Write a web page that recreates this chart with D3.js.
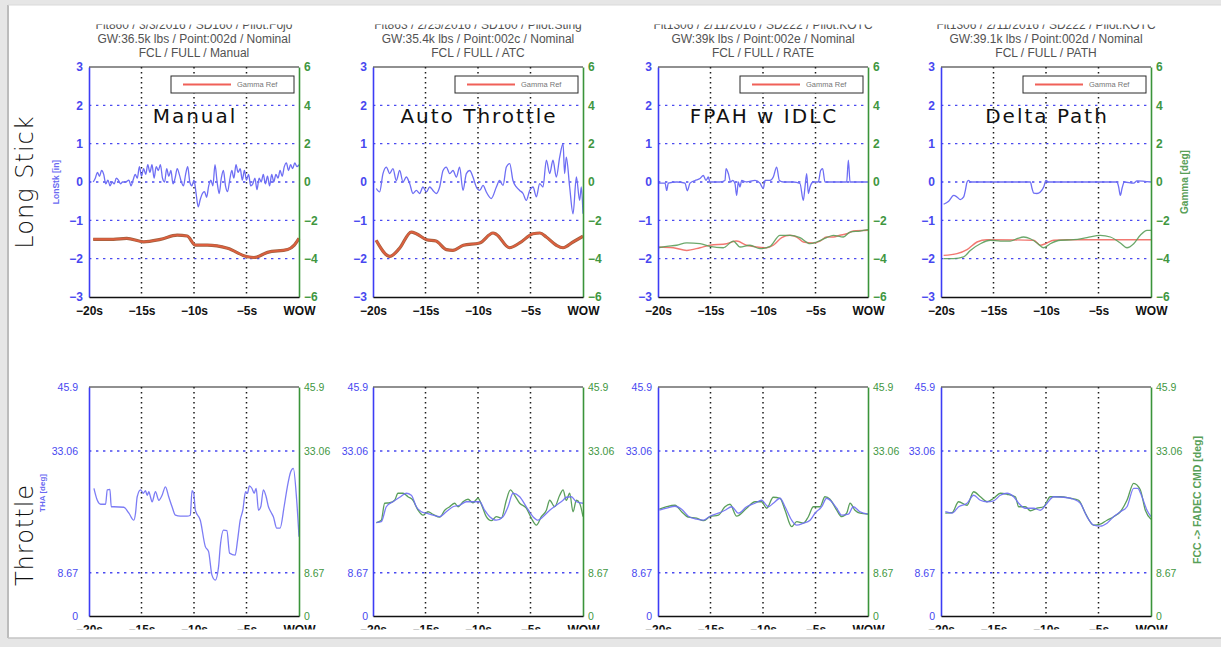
<!DOCTYPE html>
<html><head><meta charset="utf-8">
<script src="https://d3js.org/d3.v7.min.js"></script>
<style>html,body{margin:0;padding:0;background:#fff;overflow:hidden}svg{display:block}</style>
</head><body>
<svg id="chart" width="1221" height="647"></svg>
<script>
// ---------------- DATA ----------------
const timeTicks = [-20, -15, -10, -5, 0];
const timeLabels = ["−20s", "−15s", "−10s", "−5s", "WOW"];
const stickTicks = [-3, -2, -1, 0, 1, 2, 3];
const gammaTicks = [-6, -4, -2, 0, 2, 4, 6];
const throttleTicks = [0, 8.67, 33.06, 45.9];
const modeLabels = ["Manual", "Auto Throttle", "FPAH w IDLC", "Delta Path"];
const rowLabels = ["Long Stick", "Throttle"];
const titleFlight = ["Flt860 / 3/3/2016 / SD160 / Pilot:Fojo", "Flt863 / 2/25/2016 / SD160 / Pilot:Sting",
  "Flt1306 / 2/11/2016 / SD222 / Pilot:KOTC", "Flt1306 / 2/11/2016 / SD222 / Pilot:KOTC"];
const titleWeight = ["GW:36.5k lbs / Point:002d / Nominal", "GW:35.4k lbs / Point:002c / Nominal",
  "GW:39k lbs / Point:002e / Nominal", "GW:39.1k lbs / Point:002d / Nominal"];
const titleMode = ["FCL / FULL / Manual", "FCL / FULL / ATC", "FCL / FULL / RATE", "FCL / FULL / PATH"];
const legendLabel = "Gamma Ref";

// Long stick [in] : [time s, value]
const stickManual = [[-19.6,0],[-19.4,0.1],[-19.2,0.25],[-19,0.15],[-18.8,0.3],[-18.6,0.2],[-18.4,-0.05],[-18.2,0.05],[-18,-0.1],[-17.8,0],[-17.6,-0.05],[-17.4,0.1],[-17.2,0.05],[-17,-0.05],[-16.8,0],[-16.5,0],[-16.2,0.05],[-16,-0.1],[-15.8,0.05],[-15.6,0.2],[-15.4,0.1],[-15.2,0.4],[-15,0.15],[-14.8,0.35],[-14.6,0.2],[-14.4,0.45],[-14.2,0.25],[-14,0.45],[-13.8,0.1],[-13.6,0.4],[-13.4,0.3],[-13.2,0.45],[-13,0.1],[-12.8,0],[-12.6,0.35],[-12.4,0.15],[-12.2,0.3],[-12,-0.05],[-11.8,0.1],[-11.6,0.35],[-11.4,0.2],[-11.2,0],[-11,-0.1],[-10.8,0.2],[-10.6,0.4],[-10.4,0],[-10.2,-0.1],[-10,0.05],[-9.8,-0.3],[-9.6,-0.65],[-9.4,-0.45],[-9.2,-0.3],[-9,-0.25],[-8.8,-0.4],[-8.6,-0.1],[-8.4,0.05],[-8.2,-0.1],[-8,0.45],[-7.8,0],[-7.6,-0.3],[-7.4,0.1],[-7.2,0.3],[-7,-0.1],[-6.8,-0.25],[-6.6,0.05],[-6.4,0.3],[-6.2,0.1],[-6,0.45],[-5.8,0.25],[-5.6,0.35],[-5.4,0.05],[-5.2,0.3],[-5,0.05],[-4.8,0.2],[-4.6,-0.1],[-4.4,-0.05],[-4.2,0.1],[-4,-0.2],[-3.8,0.1],[-3.6,0],[-3.4,0.2],[-3.2,-0.05],[-3,0.15],[-2.8,-0.1],[-2.6,0.2],[-2.4,0],[-2.2,0.2],[-2,0.1],[-1.8,0.3],[-1.6,0.15],[-1.4,0.4],[-1.2,0.5],[-1,0.3],[-0.8,0.45],[-0.6,0.35],[-0.4,0.5],[-0.2,0.4],[0,0.45]];
const stickAuto = [[-19.68,-0.17],[-19.37,-0.26],[-19.05,0.22],[-18.73,0.39],[-18.41,0.22],[-18.1,0.35],[-17.78,0.04],[-17.46,0.3],[-17.14,0],[-16.83,0.13],[-16.51,-0.04],[-16.19,-0.3],[-15.87,-0.22],[-15.56,-0.3],[-15.24,-0.13],[-14.92,-0.26],[-14.6,-0.13],[-14.29,-0.22],[-13.97,-0.3],[-13.65,-0.13],[-13.33,0.3],[-13.02,0.39],[-12.7,0.22],[-12.38,0.3],[-12.06,0.13],[-11.75,0.39],[-11.43,-0.22],[-11.11,0.22],[-10.79,0.3],[-10.48,0.13],[-10.16,-0.13],[-9.84,-0.22],[-9.52,-0.09],[-9.21,-0.26],[-8.73,-0.43],[-8.25,-0.13],[-7.94,0.04],[-7.62,-0.09],[-7.3,0.39],[-6.98,0.48],[-6.67,0.04],[-6.35,-0.13],[-6.03,-0.22],[-5.71,-0.3],[-5.4,-0.48],[-5.08,-0.22],[-4.76,-0.13],[-4.44,-0.39],[-4.13,-0.04],[-3.81,-0.13],[-3.49,0.57],[-3.17,0.22],[-2.86,0.57],[-2.54,0.13],[-2.22,0.65],[-1.9,1.0],[-1.75,0.22],[-1.59,0.65],[-1.27,-0.13],[-0.95,-0.83],[-0.63,0.13],[-0.32,-0.48],[-0.16,-0.13],[0,-0.83]];
const stickFpah = [[-19.97,-0.03],[-19.33,-0.03],[-19.17,-0.22],[-19.02,-0.03],[-18.22,0],[-17.43,-0.03],[-17.21,-0.23],[-16.95,-0.03],[-16.48,0.04],[-16,0.09],[-15.68,0.17],[-15.43,0.04],[-15.21,0.13],[-15.05,0],[-14.1,0],[-13.62,0.04],[-13.52,0.35],[-13.3,0.22],[-13.08,0],[-12.89,0.04],[-12.67,-0.04],[-12.51,-0.35],[-12.35,0],[-12.19,-0.13],[-12.03,0.04],[-11.56,0],[-10.76,0.04],[-10.29,-0.03],[-9.97,-0.17],[-9.81,0.04],[-9.33,0.04],[-9.02,0.13],[-8.7,0.39],[-8.44,0.04],[-8.06,0],[-7.11,0],[-6.48,-0.04],[-6.16,-0.48],[-6,-0.13],[-5.84,0.22],[-5.68,-0.3],[-5.52,-0.13],[-5.21,0],[-4.73,0],[-4.51,0.3],[-4.32,0.35],[-4.1,0],[-2.03,0],[-1.87,0.57],[-1.71,0],[0,0]];
const stickDelta = [[-19.75,-0.58],[-19.27,-0.5],[-18.79,-0.35],[-18.48,-0.39],[-18.16,-0.46],[-17.84,-0.39],[-17.68,-0.22],[-17.52,0],[-17.37,0.04],[-17.21,0],[-11.49,0],[-11.33,-0.17],[-11.17,-0.29],[-10.86,-0.3],[-10.54,-0.26],[-10.22,-0.13],[-10,0.04],[-9.75,0],[-3.24,0],[-3.08,-0.13],[-2.92,-0.35],[-2.76,-0.17],[-2.54,0],[-1.65,-0.03],[-1.33,0.03],[0,0]];

// Gamma reference [deg]
const gammaRefManual = [[-19.6,-2.99],[-17.7,-2.99],[-16.4,-2.94],[-14.8,-3.12],[-13.2,-2.99],[-11.6,-2.77],[-10.65,-2.82],[-9.86,-3.29],[-8.74,-3.29],[-6.8,-3.46],[-4.9,-3.9],[-4.28,-3.94],[-3,-3.67],[-1.08,-3.52],[-0.45,-3.29],[0,-2.94]];
const gammaRefAuto = [[-19.7,-3.04],[-18.4,-3.88],[-17.5,-3.48],[-16.35,-2.61],[-15.87,-2.7],[-14.9,-3.01],[-14,-3.08],[-13,-3.53],[-12.4,-3.57],[-11.4,-3.3],[-9.84,-3.18],[-8.57,-2.66],[-8.25,-2.73],[-7,-3.43],[-6.03,-3.18],[-4.76,-2.7],[-4.1,-2.66],[-3.5,-2.87],[-2.54,-3.3],[-1.9,-3.43],[-0.95,-3.13],[0,-2.83]];
const gammaRefFpah = [[-19.97,-3.39],[-18.54,-3.43],[-17.27,-3.57],[-16,-3.43],[-15.05,-3.3],[-13.46,-3.22],[-12.51,-3.08],[-11.56,-3.3],[-10.6,-3.39],[-9.65,-3.43],[-9.02,-3.3],[-8.22,-2.9],[-7.43,-2.78],[-6.79,-2.87],[-6.16,-3.13],[-5.21,-3.18],[-4.57,-3.08],[-3.94,-2.87],[-3.3,-2.87],[-2.67,-2.78],[-2.03,-2.7],[-1.4,-2.56],[0,-2.52]];
const gammaRefDelta = [[-19.75,-3.83],[-18.48,-3.74],[-17.52,-3.53],[-16.57,-3.13],[-15.62,-3.01],[-11.17,-3.04],[-10.54,-3.3],[-10.06,-3.22],[-9.27,-3.04],[-8,-3.01],[-1.65,-3.01],[0,-3.01]];
// Gamma measured [deg]
const gammaFpah = [[-19.97,-3.43],[-19.17,-3.36],[-18.22,-3.3],[-17.27,-3.18],[-16,-3.22],[-15.05,-3.36],[-13.78,-3.43],[-12.83,-3.08],[-12.19,-3.39],[-11.24,-3.3],[-10.29,-3.48],[-9.33,-3.36],[-8.38,-2.78],[-7.43,-2.78],[-6.48,-2.9],[-5.52,-3.22],[-4.89,-3.13],[-3.94,-2.9],[-3.3,-2.78],[-2.35,-2.87],[-1.71,-2.61],[-0.76,-2.56],[0,-2.49]];
const gammaDelta = [[-19.75,-4.0],[-18.79,-4.0],[-17.84,-3.91],[-17.21,-3.57],[-16.25,-3.22],[-15.3,-3.04],[-14.35,-3.08],[-13.4,-3.08],[-12.76,-2.96],[-12.13,-2.87],[-11.49,-2.96],[-10.86,-3.18],[-10.22,-3.43],[-9.59,-3.22],[-8.63,-3.04],[-7.37,-3.01],[-6.1,-2.9],[-4.83,-2.78],[-3.87,-2.87],[-2.92,-3.18],[-2.29,-3.43],[-1.65,-3.22],[-1.02,-2.78],[-0.38,-2.52],[0,-2.52]];

// Throttle angle THA [deg]
const thaManual = [[-19.53,25.6],[-19.21,23.2],[-18.89,22.4],[-18.42,22.4],[-18.26,25.3],[-18.01,25.4],[-17.88,21.9],[-17.63,21.9],[-16.68,21.8],[-16.2,20.6],[-15.73,19.2],[-15.57,20.6],[-15.41,23.9],[-15.09,25.3],[-14.84,24.6],[-14.62,25.1],[-14.46,24.2],[-14.3,24.9],[-14.15,23.9],[-13.99,22.9],[-13.67,24.9],[-13.35,23.2],[-13.04,24.2],[-12.72,25.9],[-12.41,23.9],[-12.09,21.9],[-11.77,20.2],[-11.3,20.0],[-10.66,20.0],[-10.35,20.2],[-10.19,25.1],[-10.03,24.6],[-9.87,21.2],[-9.4,19.2],[-8.92,13.9],[-8.61,12.9],[-8.29,8.2],[-7.97,7.2],[-7.66,9.9],[-7.5,13.9],[-7.18,17.2],[-6.87,17.1],[-6.61,12.6],[-6.08,12.2],[-5.85,15.2],[-5.6,19.2],[-5.35,21.2],[-5.09,24.9],[-4.91,24.6],[-4.72,26.1],[-4.49,25.6],[-4.27,24.6],[-4.08,25.6],[-3.86,21.2],[-3.64,21.9],[-3.39,25.3],[-3.13,23.9],[-2.91,21.9],[-2.69,20.9],[-2.44,19.9],[-2.12,17.6],[-1.8,17.6],[-1.42,21.9],[-1.11,25.9],[-0.79,28.9],[-0.54,29.6],[-0.22,23.2],[0,15.9]];
const thaAuto = [[-19.68,18.7],[-19.21,18.9],[-18.73,21.9],[-18.1,22.9],[-17.46,23.8],[-16.83,24.6],[-16.35,24.2],[-15.87,21.9],[-15.4,20.9],[-14.92,20.6],[-14.29,20.2],[-13.65,19.9],[-13.02,20.9],[-12.38,21.9],[-11.75,22.2],[-11.11,22.9],[-10.48,22.9],[-9.84,22.9],[-9.37,21.2],[-8.89,19.9],[-8.25,19.2],[-7.62,19.9],[-7.14,21.9],[-6.67,24.6],[-6.03,23.9],[-5.4,21.9],[-4.76,19.9],[-4.29,19.2],[-3.81,19.9],[-3.17,21.2],[-2.54,22.2],[-1.9,23.2],[-1.59,23.8],[-1.11,23.9],[-0.63,22.9],[0,22.6]];
const thaFpah = [[-19.87,21.2],[-19.17,21.6],[-18.38,22.0],[-17.75,21.4],[-17.11,20.0],[-16.32,19.4],[-15.68,19.2],[-15.05,20.0],[-14.25,20.6],[-13.62,21.2],[-12.98,21.9],[-12.35,20.6],[-11.56,21.9],[-10.76,22.6],[-10.13,23.2],[-9.49,21.9],[-9.02,22.6],[-8.38,23.6],[-7.9,21.9],[-7.27,19.2],[-6.79,18.2],[-6.16,18.6],[-5.52,19.2],[-5.05,20.6],[-4.41,21.9],[-3.94,23.6],[-3.46,22.9],[-2.98,21.6],[-2.51,20.2],[-1.87,20.4],[-1.4,21.9],[-0.76,20.9],[0,20.4]];
const thaDelta = [[-19.59,20.9],[-18.95,20.6],[-18.32,21.9],[-17.52,22.6],[-16.89,24.2],[-16.25,23.2],[-15.62,22.9],[-14.98,23.1],[-14.35,24.2],[-13.71,24.6],[-13.08,23.9],[-12.6,22.6],[-11.97,21.6],[-11.17,21.6],[-10.54,21.2],[-9.9,22.6],[-9.27,23.9],[-8.32,23.8],[-7.37,23.4],[-6.73,22.6],[-6.1,19.9],[-5.46,18.2],[-4.83,18.0],[-4.19,18.6],[-3.56,19.9],[-2.92,20.9],[-2.29,21.9],[-1.65,25.6],[-1.27,25.6],[-0.86,23.9],[-0.38,21.2],[0,19.9]];
// FCC -> FADEC command [deg]
const fadecAuto = [[-19.68,18.7],[-19.21,19.2],[-18.89,22.6],[-18.41,22.7],[-17.94,23.2],[-17.62,24.6],[-17.14,24.6],[-16.67,23.9],[-16.19,23.2],[-15.71,21.2],[-15.24,20.2],[-14.76,20.9],[-14.29,20.4],[-13.65,19.8],[-13.17,21.2],[-12.7,21.9],[-12.22,22.6],[-11.9,21.9],[-11.43,22.9],[-10.95,23.4],[-10.48,22.7],[-10,23.6],[-9.59,21.9],[-9.21,19.9],[-8.73,19.1],[-8.25,19.9],[-7.78,19.6],[-7.3,23.2],[-6.92,25.3],[-6.51,24.2],[-6.03,22.6],[-5.4,21.6],[-4.92,19.6],[-4.44,18.2],[-3.97,19.9],[-3.49,21.2],[-3.17,23.2],[-2.7,21.9],[-2.22,24.2],[-1.9,25.3],[-1.59,23.2],[-1.27,24.6],[-0.95,20.9],[-0.63,23.2],[-0.32,22.6],[0,19.9]];
const fadecFpah = [[-19.87,21.4],[-19.17,21.9],[-18.38,22.2],[-17.75,20.9],[-17.11,19.8],[-16.32,19.6],[-15.68,19.1],[-15.05,19.9],[-14.25,20.2],[-13.62,21.9],[-13.14,22.4],[-12.51,20.0],[-11.56,21.6],[-10.76,22.9],[-10.13,22.9],[-9.65,21.6],[-9.02,23.8],[-8.38,23.6],[-7.9,21.2],[-7.27,17.9],[-6.79,18.9],[-6.16,18.6],[-5.68,19.9],[-5.21,21.9],[-4.57,21.9],[-4.1,23.9],[-3.62,23.4],[-2.98,21.2],[-2.51,19.9],[-2.03,20.6],[-1.71,22.6],[-1.24,21.2],[-0.76,20.6],[0,20.4]];
const fadecDelta = [[-19.59,20.6],[-18.95,20.7],[-18.32,22.9],[-17.52,22.2],[-16.89,24.9],[-16.25,23.9],[-15.62,22.9],[-14.98,23.6],[-14.35,24.6],[-13.71,24.4],[-12.92,23.9],[-12.6,21.9],[-11.97,21.9],[-11.49,21.1],[-10.86,21.6],[-10.22,21.9],[-9.59,23.9],[-8.63,23.9],[-7.68,23.6],[-6.89,23.2],[-6.25,20.6],[-5.46,18.2],[-4.83,18.4],[-4.19,19.2],[-3.56,19.9],[-2.92,20.9],[-2.29,23.2],[-1.65,26.6],[-1.02,25.3],[-0.54,21.2],[0,19.4]];

// ---------------- TABLES built from the arrays ----------------
const sticks = [stickManual, stickAuto, stickFpah, stickDelta];
const gammaRefs = [gammaRefManual, gammaRefAuto, gammaRefFpah, gammaRefDelta];
const gammas = [null, null, gammaFpah, gammaDelta];
const thas = [thaManual, thaAuto, thaFpah, thaDelta];
const fadecs = [null, fadecAuto, fadecFpah, fadecDelta];

// ---------------- LAYOUT / STYLE ----------------
const colX = [89, 373, 658, 941];
const PW = 210;
const rowTop = [67, 387];
const PH = [230, 229];
const bottomLeftPad = [11, 5, 6, 6];
const C = {
  axisBlue: '#3d3df5', axisGreen: '#3a943a', tickBlue: '#4747f0', tickGreen: '#3f973f',
  blueLine: '#6e6ef4', greenLine: '#5b9f5b', redLine: '#f06058', gammaThick: '#dc5f3f',
  gridBlue: '#4b4bf0', gridBlack: '#1a1a1a', title: '#525252'
};
const FONT = 'Liberation Sans, Arial, Helvetica, sans-serif';
const BIG = '"DejaVu Sans", Lato, sans-serif';

const svg = d3.select('#chart');
svg.append('rect').attr('width', 1221).attr('height', 647).attr('fill', '#e6e6e6');
svg.append('rect').attr('x', 8).attr('y', 5).attr('width', 1213).attr('height', 633).attr('fill', '#fff');
svg.append('line').attr('x1', 8).attr('x2', 8).attr('y1', 5).attr('y2', 638).attr('stroke', '#bcbcbc').attr('stroke-width', 2);
svg.append('line').attr('x1', 8).attr('x2', 1221).attr('y1', 5).attr('y2', 5).attr('stroke', '#dadada').attr('stroke-width', 1);
svg.append('line').attr('x1', 8).attr('x2', 1221).attr('y1', 638).attr('y2', 638).attr('stroke', '#c4c4c4').attr('stroke-width', 1.5);

const defs = svg.append('defs');
defs.append('clipPath').attr('id', 'pageclip').append('rect')
  .attr('x', 0).attr('y', 24.5).attr('width', 1221).attr('height', 605);
const root = svg.append('g').attr('clip-path', 'url(#pageclip)');

const fmtSigned = d => d < 0 ? '−' + Math.abs(d) : String(d);

function styleAxis(sel, color, size, weight) {
  sel.selectAll('text').attr('fill', color).style('font-family', FONT)
    .style('font-size', size + 'px').style('font-weight', weight);
  sel.selectAll('.tick line').remove();
}

function drawPanel(col, row) {
  const left = colX[col], right = left + PW, top = rowTop[row], bottom = top + PH[row];
  const x = d3.scaleLinear().domain([-20, 0]).range([left, right]);
  let yL, yR, hGrid, lTicks, rTicks;
  if (row === 0) {
    yL = d3.scaleLinear().domain([-3, 3]).range([bottom, top]);
    yR = d3.scaleLinear().domain([-6, 6]).range([bottom, top]);
    hGrid = stickTicks.slice(1, -1); lTicks = stickTicks; rTicks = gammaTicks;
  } else {
    yL = d3.scaleLinear().domain([0, 45.9]).range([bottom, top]);
    yR = yL;
    hGrid = throttleTicks.slice(1, 3); lTicks = throttleTicks; rTicks = throttleTicks;
  }
  const g = root.append('g');

  // grid
  g.selectAll('line.vg').data(timeTicks.slice(1, -1)).join('line').attr('class', 'vg')
    .attr('x1', d => x(d)).attr('x2', d => x(d)).attr('y1', top).attr('y2', bottom)
    .attr('stroke', C.gridBlack).attr('stroke-width', 1.5).attr('stroke-dasharray', '1.5,3.5');
  g.selectAll('line.hg').data(hGrid).join('line').attr('class', 'hg')
    .attr('x1', left).attr('x2', right).attr('y1', d => yL(d)).attr('y2', d => yL(d))
    .attr('stroke', C.gridBlue).attr('stroke-width', 1.4).attr('stroke-dasharray', '2.4,4.6');

  // data
  const lineL = d3.line().x(d => x(d[0])).y(d => yL(d[1])).curve(d3.curveMonotoneX);
  const lineR = d3.line().x(d => x(d[0])).y(d => yR(d[1])).curve(d3.curveMonotoneX);
  if (row === 0) {
    g.append('path').datum(sticks[col]).attr('d', lineL).attr('fill', 'none')
      .attr('stroke', C.blueLine).attr('stroke-width', 1.3);
    if (gammas[col]) {
      g.append('path').datum(gammaRefs[col]).attr('d', lineR).attr('fill', 'none')
        .attr('stroke', C.redLine).attr('stroke-width', 1.4).attr('opacity', 0.85);
      g.append('path').datum(gammas[col]).attr('d', lineR).attr('fill', 'none')
        .attr('stroke', C.greenLine).attr('stroke-width', 1.3).attr('opacity', 0.9);
    } else {
      g.append('path').datum(gammaRefs[col]).attr('d', lineR).attr('fill', 'none')
        .attr('stroke', '#a0603e').attr('stroke-width', 3.2);
      g.append('path').datum(gammaRefs[col]).attr('d', lineR).attr('fill', 'none')
        .attr('stroke', C.gammaThick).attr('stroke-width', 1.9);
    }
  } else {
    if (fadecs[col]) {
      g.append('path').datum(fadecs[col]).attr('d', lineR).attr('fill', 'none')
        .attr('stroke', C.greenLine).attr('stroke-width', 1.3);
    }
    g.append('path').datum(thas[col]).attr('d', lineL).attr('fill', 'none')
      .attr('stroke', C.blueLine).attr('stroke-width', 1.3).attr('opacity', 0.9);
  }

  // axes
  const topRow = row === 0;
  const lAx = g.append('g').attr('transform', `translate(${left},0)`)
    .call(d3.axisLeft(yL).tickValues(lTicks).tickSize(0)
      .tickPadding(topRow ? 6 : bottomLeftPad[col])
      .tickFormat(topRow ? fmtSigned : d => String(d)));
  lAx.select('.domain').attr('stroke', C.axisBlue).attr('stroke-width', 1.6);
  styleAxis(lAx, C.tickBlue, topRow ? 12 : 10.5, topRow ? 'bold' : 'normal');

  const rAx = g.append('g').attr('transform', `translate(${right},0)`)
    .call(d3.axisRight(yR).tickValues(rTicks).tickSize(0).tickPadding(5)
      .tickFormat(topRow ? fmtSigned : d => String(d)));
  rAx.select('.domain').attr('stroke', C.axisGreen).attr('stroke-width', 1.6);
  styleAxis(rAx, C.tickGreen, topRow ? 12 : 10.5, topRow ? 'bold' : 'normal');

  const bAx = g.append('g').attr('transform', `translate(0,${bottom})`)
    .call(d3.axisBottom(x).tickValues(timeTicks).tickSize(0).tickPadding(9)
      .tickFormat((d, i) => timeLabels[i]));
  bAx.select('.domain').attr('stroke', '#111').attr('stroke-width', 1.6);
  styleAxis(bAx, '#111', 12, 'bold');

  g.append('line').attr('x1', left).attr('x2', right).attr('y1', top).attr('y2', top)
    .attr('stroke', '#222').attr('stroke-width', 1.2);

  if (topRow) {
    // titles
    const cx = (left + right) / 2;
    [titleFlight[col], titleWeight[col], titleMode[col]].forEach((t, i) => {
      g.append('text').attr('x', cx).attr('y', 28.5 + i * 14.2).attr('text-anchor', 'middle')
        .style('font-family', FONT).style('font-size', '12px').attr('fill', C.title).text(t);
    });
    // legend
    const lx = right - 128, ly = top + 9;
    const lg = g.append('g');
    lg.append('rect').attr('x', lx).attr('y', ly).attr('width', 123).attr('height', 17)
      .attr('fill', '#fff').attr('stroke', '#2a2a2a').attr('stroke-width', 1);
    lg.append('line').attr('x1', lx + 12).attr('x2', lx + 60).attr('y1', ly + 8.5).attr('y2', ly + 8.5)
      .attr('stroke', C.redLine).attr('stroke-width', 1.8);
    lg.append('text').attr('x', lx + 66).attr('y', ly + 11).style('font-family', FONT)
      .style('font-size', '7.5px').attr('fill', '#777').text(legendLabel);
    // overlay mode label
    g.append('text').attr('x', cx + 1).attr('y', 123).attr('text-anchor', 'middle')
      .style('font-family', BIG).style('font-size', '20px').style('font-weight', 'normal')
      .style('letter-spacing', '2px').attr('fill', '#111').text(modeLabels[col]);
  }
}

for (let r = 0; r < 2; r++) for (let c = 0; c < 4; c++) drawPanel(c, r);

// row labels
root.append('text').attr('transform', 'translate(33,182) rotate(-90)').attr('text-anchor', 'middle')
  .style('font-family', BIG).style('font-size', '24px').style('font-weight', 300)
  .style('letter-spacing', '1px').attr('fill', '#111').text(rowLabels[0]);
root.append('text').attr('transform', 'translate(33,535) rotate(-90)').attr('text-anchor', 'middle')
  .style('font-family', BIG).style('font-size', '24px').style('font-weight', 300)
  .style('letter-spacing', '1px').attr('fill', '#111').text(rowLabels[1]);

// axis titles
function axisTitle(x, y, txt, color, size) {
  root.append('text').attr('transform', `translate(${x},${y}) rotate(-90)`).attr('text-anchor', 'middle')
    .style('font-family', FONT).style('font-size', size + 'px').style('font-weight', 'bold')
    .attr('fill', color).text(txt);
}
axisTitle(59, 182, 'LonStk [in]', '#6a6af2', 8.5);
axisTitle(1188, 182, 'Gamma [deg]', '#58a058', 10);
axisTitle(45, 493, 'THA [deg]', '#6a6af2', 8);
axisTitle(1201, 500, 'FCC -> FADEC CMD [deg]', '#58a058', 10.5);
</script>
</body></html>
